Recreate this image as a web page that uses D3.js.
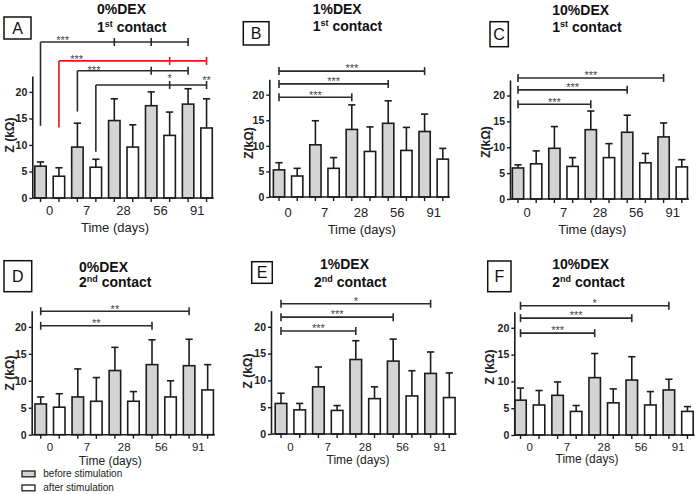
<!DOCTYPE html>
<html><head><meta charset="utf-8">
<script src="https://cdn.jsdelivr.net/npm/d3@7"></script>
<style>body{margin:0;background:#fff}svg{display:block}</style>
</head><body>
<svg id="chart" width="700" height="494"></svg>
<script>
// ---------------- DATA ----------------
const timepoints = ["0", "7", "28", "56", "91"];
const seriesNames = ["before stimulation", "after stimulation"];
const yTicks = [0, 5, 10, 15, 20];
const yMax = 23;
const panelLetters = ["A", "B", "C", "D", "E", "F"];
const dexLabels = ["0%DEX", "1%DEX", "10%DEX", "0%DEX", "1%DEX", "10%DEX"];
const contactOrdinals = [["1", "st"], ["1", "st"], ["1", "st"], ["2", "nd"], ["2", "nd"], ["2", "nd"]];
const yAxisLabels = ["Z (k\u03A9)", "Z(k\u03A9)", "Z(k\u03A9)", "Z (k\u03A9)", "Z (k\u03A9)", "Z (k\u03A9)"];

// mean and SD (kΩ), before / after stimulation, per time point
const beforeA = [6.0, 9.6, 14.6, 17.4, 17.7];
const beforeSdA = [0.8, 4.5, 4.1, 2.6, 2.9];
const afterA = [4.1, 5.8, 9.6, 11.8, 13.2];
const afterSdA = [1.6, 1.5, 4.2, 4.4, 5.5];

const beforeB = [5.3, 10.2, 13.2, 14.4, 12.8];
const beforeSdB = [1.4, 4.7, 4.8, 4.4, 3.4];
const afterB = [4.1, 5.6, 8.9, 9.1, 7.4];
const afterSdB = [1.5, 2.1, 4.8, 4.5, 2.1];

const beforeC = [6.0, 9.8, 13.4, 12.9, 12.0];
const beforeSdC = [0.6, 4.2, 3.6, 3.3, 2.7];
const afterC = [6.8, 6.3, 8.0, 7.0, 6.2];
const afterSdC = [2.5, 1.7, 2.7, 1.8, 1.4];

const beforeD = [5.7, 7.0, 11.9, 13.0, 12.8];
const beforeSdD = [1.3, 5.2, 4.3, 4.6, 4.9];
const afterD = [5.1, 6.2, 6.2, 7.0, 8.3];
const afterSdD = [2.5, 4.4, 1.8, 3.0, 4.7];

const beforeE = [5.7, 8.8, 13.9, 13.6, 11.3];
const beforeSdE = [1.9, 3.7, 3.5, 4.1, 4.0];
const afterE = [4.5, 4.4, 6.6, 7.1, 6.8];
const afterSdE = [1.2, 0.9, 2.2, 4.7, 4.6];

const beforeF = [6.5, 7.4, 10.7, 10.25, 8.4];
const beforeSdF = [2.25, 2.5, 4.5, 4.35, 2.0];
const afterF = [5.6, 4.4, 6.0, 5.6, 4.4];
const afterSdF = [2.7, 1.1, 2.6, 2.5, 0.9];

// significance brackets: bar indices (0..9), level in kΩ
const bracketsA = [
  {from: 0, to: 8, level: 29.4, drop: 13.6, marks: [4, 6], labels: [{text: "***", at: 1.2, y: 30.2}]},
  {from: 1, to: 9, level: 25.85, drop: 13.3, marks: [7], highlight: true, labels: [{text: "***", at: 1.96, y: 26.7}]},
  {from: 2, to: 8, level: 24.0, drop: 16.3, marks: [6], labels: [{text: "***", at: 2.9, y: 24.6}]},
  {from: 3, to: 9, level: 21.3, drop: 8.7, marks: [7], labels: [{text: "*", at: 7, y: 23.0}, {text: "**", at: 9, y: 22.7}]}
];
const bracketsB = [
  {from: 0, to: 8, level: 24.6, labels: [{text: "***"}]},
  {from: 0, to: 6, level: 22.1, labels: [{text: "***"}]},
  {from: 0, to: 4, level: 19.5, labels: [{text: "***"}]}
];
const bracketsC = [
  {from: 0, to: 8, level: 23.4, labels: [{text: "***"}]},
  {from: 0, to: 6, level: 21.1, labels: [{text: "***"}]},
  {from: 0, to: 4, level: 18.3, labels: [{text: "***"}]}
];
const bracketsD = [
  {from: 0, to: 8, level: 22.9, labels: [{text: "**"}]},
  {from: 0, to: 6, level: 20.2, labels: [{text: "**"}]}
];
const bracketsE = [
  {from: 0, to: 8, level: 24.3, labels: [{text: "*"}]},
  {from: 0, to: 6, level: 21.8, labels: [{text: "***"}]},
  {from: 0, to: 4, level: 19.2, labels: [{text: "***"}]}
];
const bracketsF = [
  {from: 0, to: 8, level: 24.1, labels: [{text: "*"}]},
  {from: 0, to: 6, level: 21.8, labels: [{text: "***"}]},
  {from: 0, to: 4, level: 19.0, labels: [{text: "***"}]}
];

const panelData = [
  [beforeA, beforeSdA, afterA, afterSdA, bracketsA],
  [beforeB, beforeSdB, afterB, afterSdB, bracketsB],
  [beforeC, beforeSdC, afterC, afterSdC, bracketsC],
  [beforeD, beforeSdD, afterD, afterSdD, bracketsD],
  [beforeE, beforeSdE, afterE, afterSdE, bracketsE],
  [beforeF, beforeSdF, afterF, afterSdF, bracketsF]
];

// ---------------- LAYOUT ----------------
const layouts = [
  {ax: 32.3, y0: 198, yTop: 76, c1: 40.5, step: 18.45, box: [4, 17, 27, 22], t1: [97, 14], t2: [97, 31.5], yLab: [9.5, 135], tickY: 210.7, time: [115, 227.7], fs: 13, tfs: 13},
  {ax: 269.3, y0: 197, yTop: 79.3, c1: 279, step: 18.2, box: [243.3, 21.7, 25.7, 23.3], t1: [312.7, 14], t2: [312.7, 31], yLab: [249, 143], tickY: 212, time: [361.7, 229.3], fs: 13, tfs: 13},
  {ax: 510, y0: 199, yTop: 80, c1: 518, step: 18.2, box: [490, 21.7, 18.3, 25], t1: [552.3, 14.5], t2: [552.3, 31.5], yLab: [485.7, 142], tickY: 212, time: [592.3, 229.3], fs: 13, tfs: 13},
  {ax: 31.7, y0: 434.7, yTop: 310.7, c1: 40.7, step: 18.55, box: [4, 260.7, 27.7, 31], t1: [79, 271.7], t2: [79, 286.7], yLab: [9.3, 373], tickY: 447.3, time: [110.3, 461], fs: 11.5, tfs: 12},
  {ax: 271, y0: 434, yTop: 310.7, c1: 281, step: 18.7, box: [251.7, 261.7, 20.6, 21.6], t1: [320, 269.3], t2: [314, 286.7], yLab: [247.3, 371], tickY: 446.6, time: [358, 460], fs: 11.5, tfs: 12},
  {ax: 514.3, y0: 435, yTop: 311.7, c1: 520.5, step: 18.55, box: [487.7, 261, 23.3, 30.7], t1: [552.3, 269.3], t2: [552.3, 286.7], yLab: [489.3, 367], tickY: 446.5, time: [587, 459], fs: 11.5, tfs: 12}
];

const FONT = "'Liberation Sans', Arial, Helvetica, sans-serif";
const INK = "#1c1c1c";
const GRAY = "#d4d4d4";
const RED = "#e8141c";

const svg = d3.select("#chart").style("font-family", FONT);
svg.append("rect").attr("width", 700).attr("height", 494).attr("fill", "#fff");

panelData.forEach((pd, pi) => {
  const [bef, befSd, aft, aftSd, brackets] = pd;
  const L = layouts[pi];
  const g = svg.append("g");

  const y = d3.scaleLinear().domain([0, yMax]).range([L.y0, L.yTop]);
  const r0 = L.c1 - L.step / 2;
  const x = d3.scaleBand().domain(d3.range(10)).range([r0, r0 + 10 * L.step])
    .paddingInner(0.38).paddingOuter(0.19);
  const bw = x.bandwidth();
  const cx = i => x(0) + bw / 2 + i * x.step(); // allows fractional positions

  const bars = [];
  timepoints.forEach((t, ti) => {
    bars.push({i: ti * 2, v: bef[ti], sd: befSd[ti], s: 0});
    bars.push({i: ti * 2 + 1, v: aft[ti], sd: aftSd[ti], s: 1});
  });

  // error bars (upper only)
  const eg = g.append("g").attr("stroke", INK).attr("stroke-width", 1.6).attr("fill", "none");
  eg.selectAll("line.v").data(bars).join("line").attr("class", "v")
    .attr("x1", d => cx(d.i)).attr("x2", d => cx(d.i))
    .attr("y1", d => y(d.v)).attr("y2", d => y(d.v + d.sd));
  eg.selectAll("line.c").data(bars).join("line").attr("class", "c")
    .attr("x1", d => cx(d.i) - 3.6).attr("x2", d => cx(d.i) + 3.6)
    .attr("y1", d => y(d.v + d.sd)).attr("y2", d => y(d.v + d.sd));

  // bars
  g.append("g").selectAll("rect").data(bars).join("rect")
    .attr("x", d => x(d.i)).attr("width", bw)
    .attr("y", d => y(d.v)).attr("height", d => y(0) - y(d.v))
    .attr("fill", d => d.s === 0 ? GRAY : "#fff")
    .attr("stroke", INK).attr("stroke-width", 1.6);

  // y axis
  const ya = g.append("g").attr("transform", `translate(${L.ax},0)`)
    .call(d3.axisLeft(y).tickValues(yTicks).tickSize(3).tickSizeOuter(0).tickPadding(2));
  ya.select(".domain").attr("stroke", INK).attr("stroke-width", 1.6);
  ya.selectAll(".tick line").attr("stroke", INK).attr("stroke-width", 1.4);
  ya.selectAll(".tick text").attr("font-family", FONT).attr("font-size", 10.5)
    .attr("font-weight", "bold").attr("fill", "#222");

  // x axis
  const xa = g.append("g").attr("transform", `translate(0,${L.y0})`)
    .call(d3.axisBottom(x).tickSize(4).tickSizeOuter(0).tickFormat(""));
  xa.select(".domain").remove();
  xa.selectAll(".tick line").attr("stroke", INK).attr("stroke-width", 1.4);
  g.append("line").attr("x1", L.ax).attr("x2", x(9) + bw + 1.5)
    .attr("y1", L.y0).attr("y2", L.y0).attr("stroke", INK).attr("stroke-width", 1.6);

  // time labels at pair centres
  g.append("g").selectAll("text").data(timepoints).join("text")
    .attr("x", (d, ti) => (cx(ti * 2) + cx(ti * 2 + 1)) / 2)
    .attr("y", L.tickY).attr("dy", "0.35em")
    .attr("text-anchor", "middle").attr("font-size", L.fs).attr("fill", "#222")
    .text(d => d);
  g.append("text").attr("x", L.time[0]).attr("y", L.time[1]).attr("dy", "0.35em")
    .attr("text-anchor", "middle").attr("font-size", L.tfs).attr("fill", "#222")
    .text("Time (days)");

  // y label
  g.append("text").attr("transform", `translate(${L.yLab[0]},${L.yLab[1]}) rotate(-90)`)
    .attr("dy", "0.35em").attr("text-anchor", "middle")
    .attr("font-size", 12).attr("font-weight", "bold").attr("fill", "#222")
    .text(yAxisLabels[pi]);

  // panel letter box
  const [bx, by, bww, bh] = L.box;
  g.append("rect").attr("x", bx).attr("y", by).attr("width", bww).attr("height", bh)
    .attr("fill", "#fff").attr("stroke", "#111").attr("stroke-width", 1.5);
  g.append("text").attr("x", bx + bww / 2).attr("y", by + bh / 2).attr("dy", "0.36em")
    .attr("text-anchor", "middle").attr("font-size", 16).attr("fill", "#111")
    .text(panelLetters[pi]);

  // titles
  g.append("text").attr("x", L.t1[0]).attr("y", L.t1[1])
    .attr("font-size", 14).attr("font-weight", "bold").attr("fill", "#111")
    .text(dexLabels[pi]);
  const t2 = g.append("text").attr("x", L.t2[0]).attr("y", L.t2[1])
    .attr("font-size", 14).attr("font-weight", "bold").attr("fill", "#111");
  t2.append("tspan").text(contactOrdinals[pi][0]);
  t2.append("tspan").attr("dy", -5).attr("font-size", 9).text(contactOrdinals[pi][1]);
  t2.append("tspan").attr("dy", 5).text(" contact");

  // significance brackets
  const bg = g.append("g").attr("fill", "none");
  brackets.forEach(b => {
    const col = b.highlight ? RED : "#2a2a2a";
    const ly = y(b.level);
    bg.append("line").attr("x1", cx(b.from)).attr("x2", cx(b.to)).attr("y1", ly).attr("y2", ly)
      .attr("stroke", col).attr("stroke-width", 1.6);
    if (b.drop !== undefined) {
      bg.append("line").attr("x1", cx(b.from)).attr("x2", cx(b.from)).attr("y1", ly).attr("y2", y(b.drop))
        .attr("stroke", col).attr("stroke-width", 1.6);
    } else {
      bg.append("line").attr("x1", cx(b.from)).attr("x2", cx(b.from)).attr("y1", ly - 4).attr("y2", ly + 4)
        .attr("stroke", col).attr("stroke-width", 1.6);
    }
    [...(b.marks || []), b.to].forEach(m => {
      bg.append("line").attr("x1", cx(m)).attr("x2", cx(m)).attr("y1", ly - 4).attr("y2", ly + 4)
        .attr("stroke", col).attr("stroke-width", 1.6);
    });
    b.labels.forEach(lb => {
      const at = lb.at !== undefined ? lb.at : (b.from + b.to) / 2;
      const ly2 = lb.y !== undefined ? y(lb.y) : y(b.level) - 5;
      g.append("text").attr("x", cx(at)).attr("y", ly2 + 6.3)
        .attr("text-anchor", "middle").attr("font-size", 11).attr("fill", "#444")
        .text(lb.text);
    });
  });
});

// legend
const lg = svg.append("g");
seriesNames.forEach((s, i) => {
  const yy = 473.8 + i * 14;
  lg.append("rect").attr("x", 22).attr("y", yy - 2.8).attr("width", 13).attr("height", 5.8)
    .attr("fill", i === 0 ? GRAY : "#fff").attr("stroke", INK).attr("stroke-width", 1.3);
  lg.append("text").attr("x", 43.3).attr("y", yy).attr("dy", "0.35em")
    .attr("font-size", 10).attr("fill", "#222").text(s);
});
</script>
</body></html>
